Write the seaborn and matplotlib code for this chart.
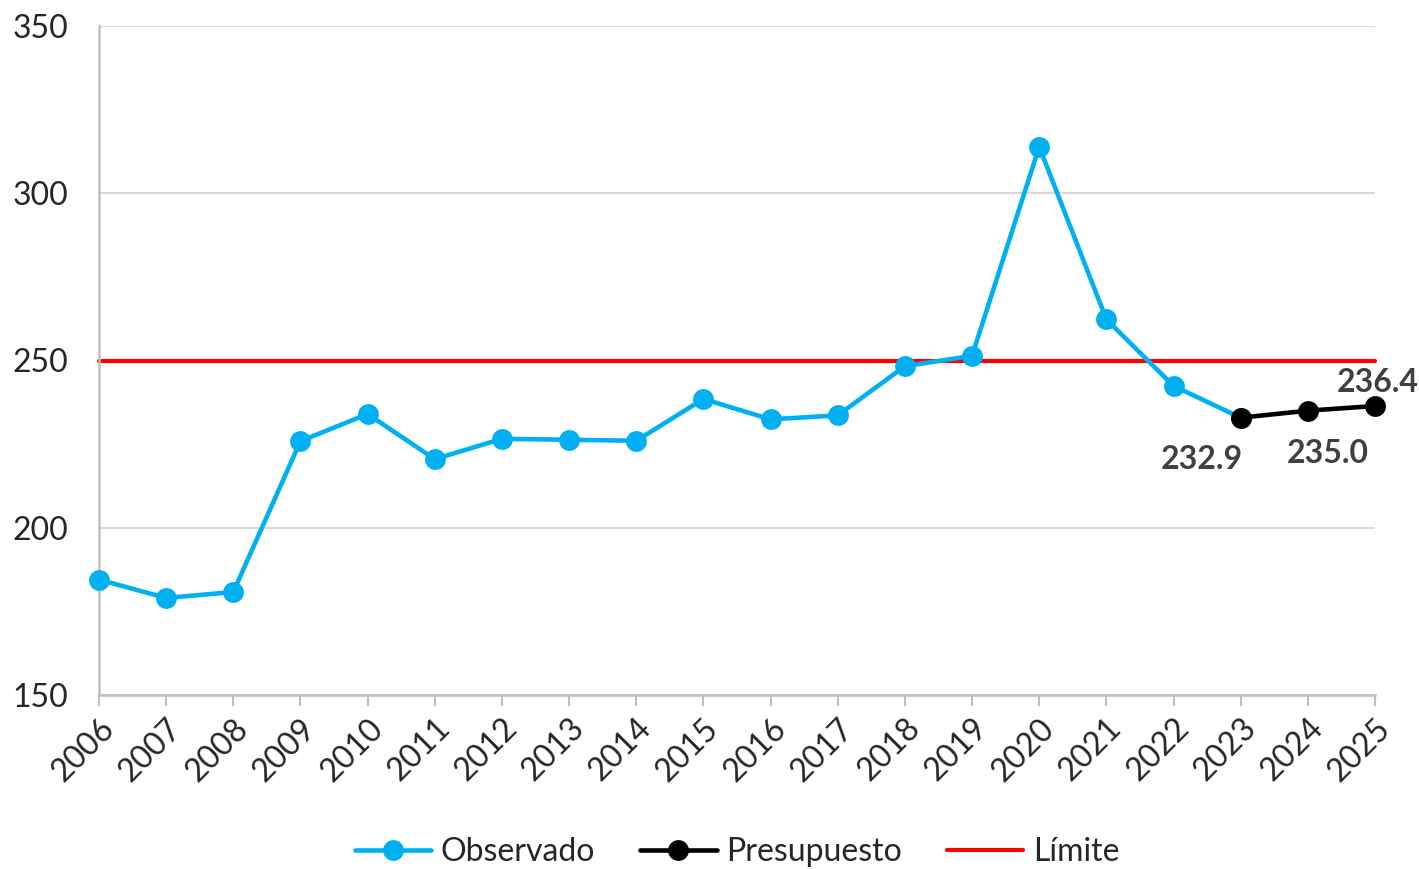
import matplotlib
matplotlib.use("Agg")
import matplotlib.pyplot as plt
import seaborn as sns
import pandas as pd

years = list(range(2006, 2026))
obs_years = list(range(2006, 2024))
obs_values = [184.5, 179.0, 180.8, 225.9, 234.0, 220.5, 226.6, 226.3, 226.0,
              238.5, 232.4, 233.6, 248.3, 251.4, 313.9, 262.3, 242.4, 232.9]
bud_years = [2023, 2024, 2025]
bud_values = [232.9, 235.0, 236.4]
limit_value = 250
series_names = ["Observado", "Presupuesto", "Límite"]

sns.set_theme(style="white")
plt.rcParams["font.family"] = ["Lato", "DejaVu Sans"]

fig = plt.figure(figsize=(14.19, 8.69), dpi=100)
ax = fig.add_axes([99 / 1419, 1 - 695 / 869, (1375 - 99) / 1419, (695 - 26) / 869])

df_obs = pd.DataFrame({"year": obs_years, "value": obs_values})
df_bud = pd.DataFrame({"year": bud_years, "value": bud_values})
df_lim = pd.DataFrame({"year": [years[0], years[-1]], "value": [limit_value, limit_value]})

ax.set_xlim(years[0], years[-1])
ax.set_ylim(150, 350)
ax.set_yticks([150, 200, 250, 300, 350])
ax.yaxis.grid(True, color="#d9d9d9", linewidth=1.5)
ax.set_axisbelow(True)

sns.lineplot(data=df_obs, x="year", y="value", ax=ax, color="#00B0F0",
             linewidth=3.3, marker="o", markersize=15, markeredgewidth=0,
             label=series_names[0], zorder=3, clip_on=False)
sns.lineplot(data=df_bud, x="year", y="value", ax=ax, color="black",
             linewidth=3.3, marker="o", markersize=15, markeredgewidth=0,
             label=series_names[1], zorder=4, clip_on=False)
sns.lineplot(data=df_lim, x="year", y="value", ax=ax, color="#FF0000",
             linewidth=3.0, label=series_names[2], zorder=2, clip_on=False)

# value labels for the budget series
offsets = [(-28, -30), (14, -31), (2, 17)]
for (x, y), (dx, dy) in zip(zip(bud_years, bud_values), offsets):
    ax.annotate(f"{y:.1f}", (x, y), xytext=(dx, dy), textcoords="offset points",
                ha="center", va="center", fontsize=23, fontweight="bold",
                color="#404040", zorder=5)

ax.set_xticks(years)
ax.set_xticklabels([str(y) for y in years], rotation=45, ha="right",
                   rotation_mode="anchor", fontsize=23)
ax.tick_params(axis="x", which="major", direction="out", length=8, width=1.5,
               color="#bfbfbf", bottom=True, pad=5)
ax.tick_params(axis="y", length=0, labelsize=23, pad=22)
ax.set_xlabel("")
ax.set_ylabel("")

for side in ["top", "right"]:
    ax.spines[side].set_visible(False)
for side in ["left", "bottom"]:
    ax.spines[side].set_color("#bfbfbf")
    ax.spines[side].set_linewidth(1.8)

ax.legend(loc="center", bbox_to_anchor=(0.5, -0.235), ncol=3, frameon=False,
          fontsize=23, handlelength=2.4, columnspacing=1.4, handletextpad=0.3)

fig.savefig("out.png", dpi=100)
